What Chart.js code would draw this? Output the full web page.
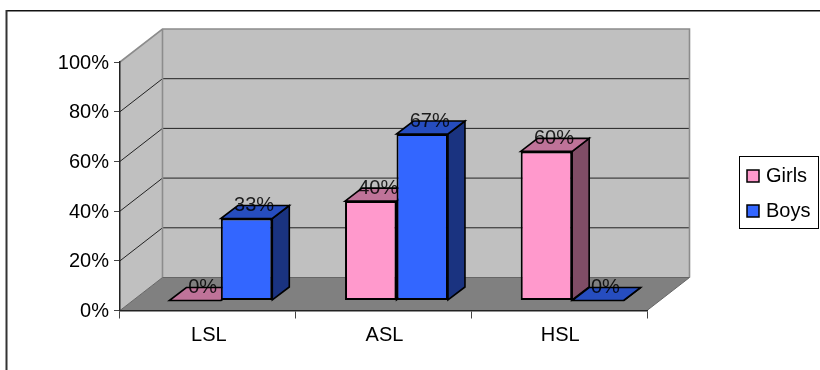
<!DOCTYPE html>
<html>
<head>
<meta charset="utf-8">
<style>
  html, body { margin: 0; padding: 0; background: #fff; }
  #wrap { width: 820px; height: 370px; }
</style>
<script src="https://cdn.jsdelivr.net/npm/chart.js@4"></script>
</head>
<body>
<div id="wrap"><canvas id="chart-bars" width="820" height="370"></canvas></div>
<script>
// chart values
const categories = ['LSL', 'ASL', 'HSL'];
const girls = [0, 40, 60];
const boys = [33, 67, 0];
const yTicks = [0, 20, 40, 60, 80, 100];

const FONT = '"Liberation Sans", Arial, sans-serif';
const FONT_SIZE = 20;

// 3d look: back wall offset and how far the bars sit in front of it
const wallDx = 42.5, wallDy = -33;
const barDx = 13, barDy = -10;
const sideDx = 17, sideDy = -13;

function poly(ctx, pts, fill, stroke, lw) {
    ctx.beginPath();
    pts.forEach((p, i) => i ? ctx.lineTo(p[0], p[1]) : ctx.moveTo(p[0], p[1]));
    ctx.closePath();
    if (fill) { ctx.fillStyle = fill; ctx.fill(); }
    if (stroke) { ctx.strokeStyle = stroke; ctx.lineWidth = lw; ctx.stroke(); }
}

// walls, floor and gridlines behind the bars
const wallsPlugin = {
    id: 'walls',
    beforeDraw(chart) {
        const { ctx, chartArea: a, scales } = chart;
        const l = a.left, r = a.right, t = a.top, b = a.bottom;
        ctx.save();
        // outer frame, only top and left show
        ctx.fillStyle = '#111';
        ctx.fillRect(6, 10, 814, 1.5);
        ctx.fillStyle = '#333';
        ctx.fillRect(5.5, 10, 2, 360);

        poly(ctx, [[l + wallDx, t + wallDy], [r + wallDx, t + wallDy], [r + wallDx, b + wallDy], [l + wallDx, b + wallDy]], '#c0c0c0');
        poly(ctx, [[l, t], [l + wallDx, t + wallDy], [l + wallDx, b + wallDy], [l, b]], '#c0c0c0');
        poly(ctx, [[l, b], [r, b], [r + wallDx, b + wallDy], [l + wallDx, b + wallDy]], '#808080');

        yTicks.slice(1, -1).forEach(v => {
            const y = scales.y.getPixelForValue(v);
            ctx.strokeStyle = '#222';
            ctx.lineWidth = 1;
            ctx.beginPath();
            ctx.moveTo(l, y);
            ctx.lineTo(l + wallDx, y + wallDy);
            ctx.lineTo(r + wallDx, y + wallDy);
            ctx.stroke();
        });

        // gray wall edges
        ctx.strokeStyle = '#8c8c8c';
        ctx.lineWidth = 1.6;
        ctx.beginPath();
        ctx.moveTo(l, t);
        ctx.lineTo(l + wallDx, t + wallDy);
        ctx.lineTo(r + wallDx, t + wallDy);
        ctx.lineTo(r + wallDx, b + wallDy);
        ctx.moveTo(l + wallDx, t + wallDy);
        ctx.lineTo(l + wallDx, b + wallDy);
        ctx.stroke();
        ctx.strokeStyle = '#666';
        ctx.lineWidth = 1;
        ctx.beginPath();
        ctx.moveTo(l, b);
        ctx.lineTo(l + wallDx, b + wallDy);
        ctx.lineTo(r + wallDx, b + wallDy);
        ctx.lineTo(r, b);
        ctx.stroke();
        ctx.restore();
    }
};

// sides and tops of the bars, the fronts are the real chart bars
const depthPlugin = {
    id: 'depth',
    beforeDatasetsDraw(chart) {
        const ctx = chart.ctx;
        ctx.save();
        ctx.translate(barDx, barDy);
        ctx.lineJoin = 'miter';
        chart.data.datasets.forEach((ds, di) => {
            chart.getDatasetMeta(di).data.forEach(bar => {
                const x0 = bar.x - bar.width / 2, x1 = bar.x + bar.width / 2;
                const top = bar.y, base = bar.base;
                poly(ctx, [[x1, top], [x1 + sideDx, top + sideDy], [x1 + sideDx, base + sideDy], [x1, base]], ds.sideColor, '#000', 1.6);
                poly(ctx, [[x0, top], [x1, top], [x1 + sideDx, top + sideDy], [x0 + sideDx, top + sideDy]], ds.topColor, '#000', 1.6);
            });
        });
    },
    afterDatasetsDraw(chart) {
        const ctx = chart.ctx;
        ctx.restore();

        // percent labels sit over the bar tops
        ctx.save();
        ctx.font = FONT_SIZE + 'px ' + FONT;
        ctx.fillStyle = 'rgba(0,0,0,0.85)';
        ctx.textAlign = 'center';
        ctx.textBaseline = 'middle';
        chart.data.datasets.forEach((ds, di) => {
            chart.getDatasetMeta(di).data.forEach((bar, i) => {
                ctx.fillText(ds.data[i] + '%', bar.x + barDx + 7.5, bar.y + barDy - 13);
            });
        });
        ctx.restore();

        // legend box
        ctx.save();
        ctx.fillStyle = '#fff';
        ctx.strokeStyle = '#000';
        ctx.lineWidth = 1;
        ctx.fillRect(739.5, 156.5, 79, 72);
        ctx.strokeRect(739.5, 156.5, 79, 72);
        ctx.font = FONT_SIZE + 'px ' + FONT;
        ctx.textBaseline = 'middle';
        chart.data.datasets.forEach((ds, di) => {
            const y = 176 + di * 35;
            ctx.fillStyle = ds.backgroundColor;
            ctx.fillRect(747, y - 6, 12, 12);
            ctx.lineWidth = 1.5;
            ctx.strokeRect(747, y - 6, 12, 12);
            ctx.fillStyle = '#000';
            ctx.fillText(ds.label, 766, y + 0.5);
        });
        ctx.restore();
    }
};

new Chart(document.getElementById('chart-bars').getContext('2d'), {
    type: 'bar',
    data: {
        labels: categories,
        datasets: [
            { label: 'Girls', data: girls, backgroundColor: '#ff99cc', sideColor: '#804d66', topColor: '#bf7399' },
            { label: 'Boys', data: boys, backgroundColor: '#3366ff', sideColor: '#1a3380', topColor: '#264dbf' }
        ]
    },
    options: {
        responsive: false,
        animation: false,
        layout: { padding: { left: 0, top: 62, right: 173, bottom: 0 } },
        datasets: {
            bar: {
                categoryPercentage: 0.586,
                barPercentage: 1,
                borderColor: '#000',
                borderWidth: 2,
                borderSkipped: false,
                clip: false
            }
        },
        plugins: {
            legend: { display: false },
            tooltip: { enabled: false }
        },
        scales: {
            x: {
                border: { color: '#222', width: 1.5 },
                grid: { drawOnChartArea: false, offset: true, color: '#444', tickLength: 8 },
                ticks: { color: '#000', padding: 5, labelOffset: 1, font: { family: FONT, size: FONT_SIZE } },
                afterFit(scale) { scale.height = 59.5; }
            },
            y: {
                min: 0,
                max: 100,
                border: { color: '#222', width: 1.5 },
                grid: { drawOnChartArea: false, color: '#444', tickLength: 6 },
                afterBuildTicks(scale) { scale.ticks = yTicks.map(v => ({ value: v })); },
                ticks: {
                    color: '#000',
                    padding: 5,
                    labelOffset: 1,
                    font: { family: FONT, size: FONT_SIZE },
                    callback: v => v + '%'
                },
                afterFit(scale) { scale.width = 120; }
            }
        }
    },
    plugins: [wallsPlugin, depthPlugin]
});
</script>
</body>
</html>
